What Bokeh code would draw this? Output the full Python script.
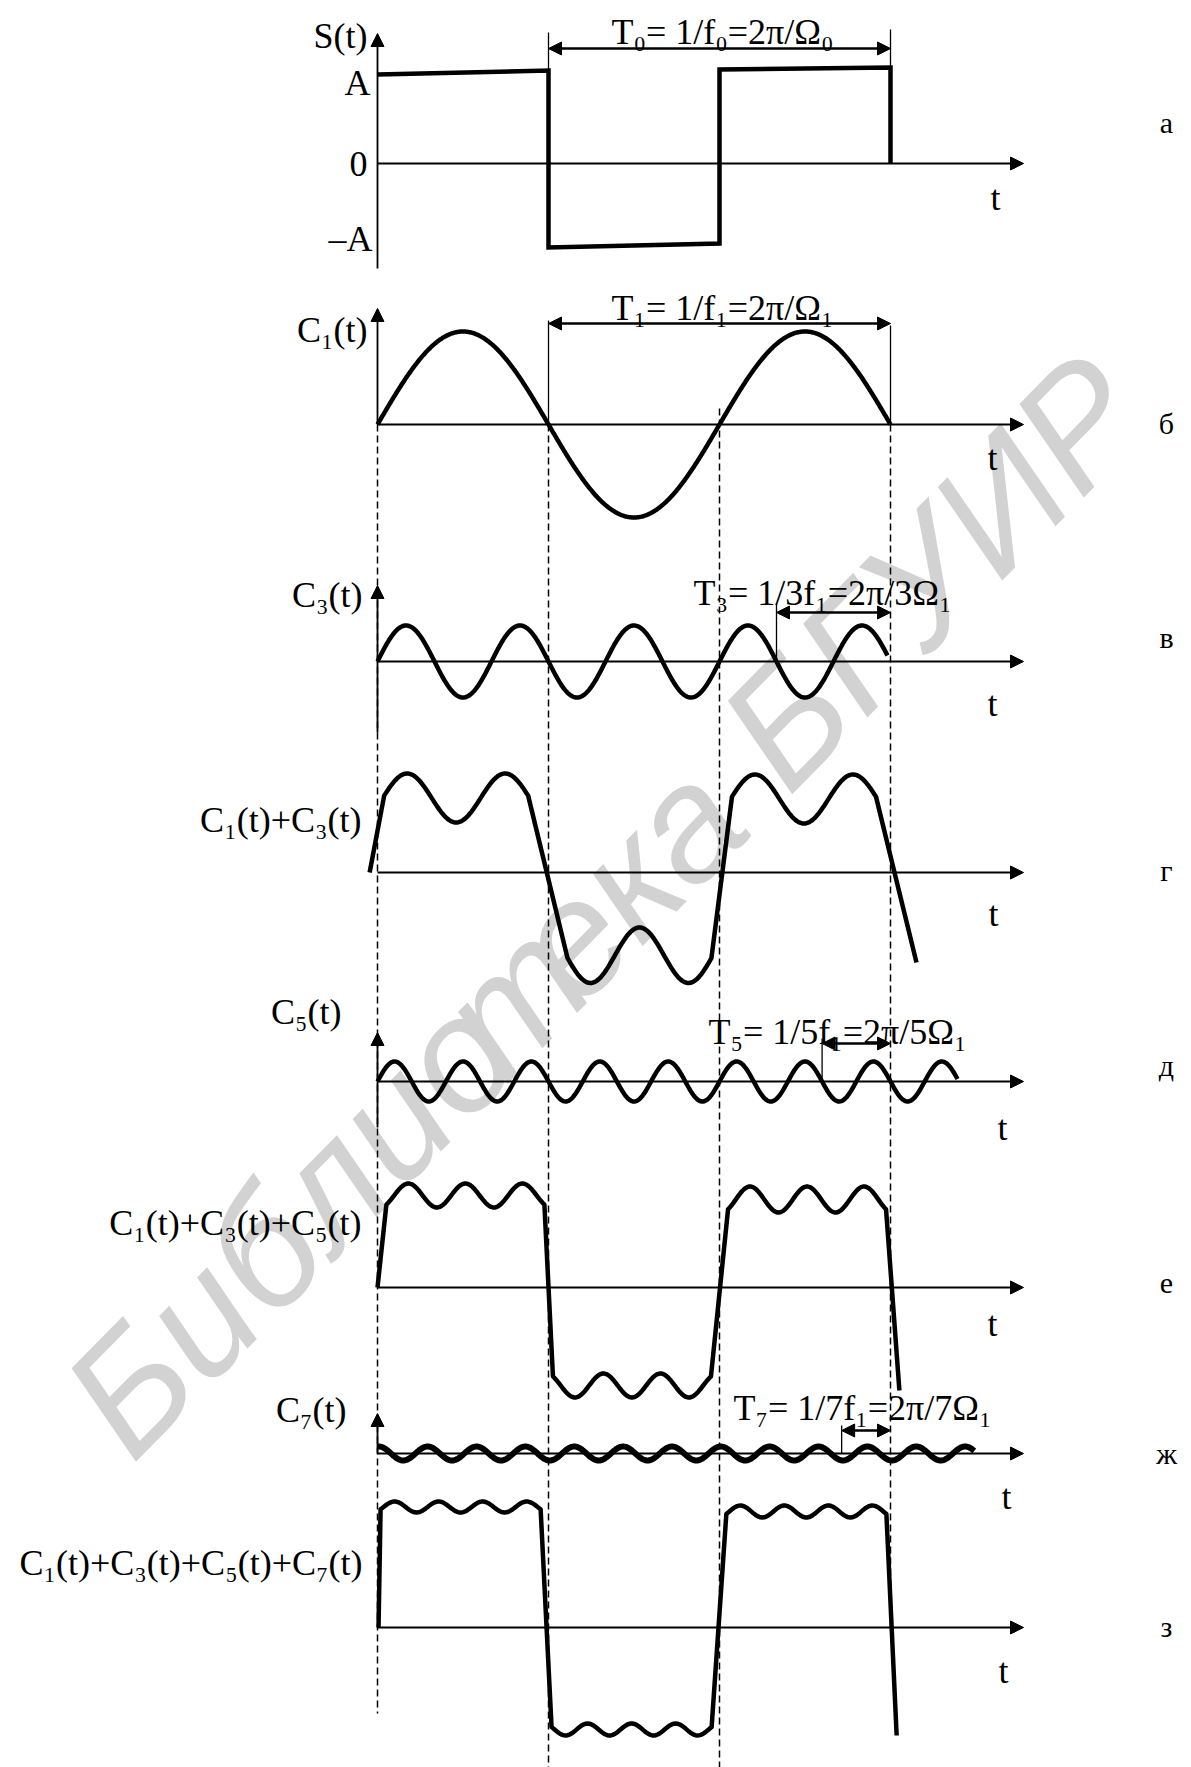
import numpy as np
from bokeh.plotting import figure
from bokeh.models import Range1d, Arrow, NormalHead, ColumnDataSource
from bokeh.core.properties import value
from bokeh.embed import file_html
from bokeh.resources import INLINE

# ---------------- data (time in periods T of the fundamental, heights in px above zero line) -------------
# a) square wave S(t)
sq_t = [0.0, 0.5, 0.5, 1.0, 1.0, 1.5, 1.5]
sq_v = [89, 93, -84, -80, 94, 96, 0]

# single harmonics C1, C3, C5, C7
harm_order = [1, 3, 5, 7]
harm_amp = [93, 36, 20, 7]
harm_phase = [0.0, 0.0, 0.0, 1.4]
harm_t_end = [1.5, 1.491, 1.696, 1.745]

# partial sums: C1+C3, C1+C3+C5, C1+C3+C5+C7
comp_start = [(-0.023, 0), (0.0, 0), (0.003, 0)]
comp_end = [(1.576, -90), (1.526, -103), (1.518, -108)]
comp_centers = [[0.230, 0.766, 1.247], [0.257, 0.744, 1.256], [0.243, 0.743, 1.254]]
comp_levels = [[74.5, -82.75, 73.5], [92, -98, 88], [120.5, -102, 116]]
comp_ripple = [[24.5, 27.75, 24.5], [12, 12, 13], [5.5, 6, 6]]
comp_halfwidth = [0.2105, 0.231, 0.234]
comp_ripple_period = [0.2865, 0.1667, 0.1287]
comp_centre_is_peak = [-1, 1, -1]

# period markers
dash_t = [0.0, 0.5, 1.0, 1.5]
period_marks = [0.5, 1.5 - 1 / 3, 1.5 - 1 / 5, 1.5 - 1 / 7]

# texts
t_labels = ["T₀= 1/f₀=2π/Ω₀", "T₁= 1/f₁=2π/Ω₁", "T₃= 1/3f₁=2π/3Ω₁",
            "T₅= 1/5f₁=2π/5Ω₁", "T₇= 1/7f₁=2π/7Ω₁"]
panel_letters = ["а", "б", "в", "г", "д", "е", "ж", "з"]
y_labels = ["S(t)", "C₁(t)", "C₃(t)", "C₁(t)+C₃(t)", "C₅(t)",
            "C₁(t)+C₃(t)+C₅(t)", "C₇(t)", "C₁(t)+C₃(t)+C₅(t)+C₇(t)"]
level_labels = ["A", "0", "–A"]
watermark = "Библиотека БГУИР"
wm_em = {"Б": 0.667, "и": 0.556, "б": 0.574, "л": 0.574, "о": 0.556, "т": 0.458, "е": 0.556,
         "к": 0.448, "а": 0.556, " ": 0.278, "Г": 0.552, "У": 0.635, "И": 0.722, "Р": 0.667}

# ---------------- layout ----------------
X0, PX = 377.0, 342.0          # page x of t=0 and px per period


def tx(px):
    return (px - X0) / PX


BASE = [163, 424, 661, 872, 1081, 1287, 1453, 1627]   # zero line of each panel (page y)
W, H = 1191, 1767

p = figure(width=W, height=H, x_range=Range1d(tx(0), tx(W)), y_range=Range1d(H, 0),
           output_backend="svg", toolbar_location=None, x_axis_type=None, y_axis_type=None,
           min_border=0)
p.outline_line_color = None
p.grid.visible = False
p.background_fill_color = "white"
p.border_fill_color = "white"

SERIF = value("Liberation Serif")
FS = "36px"

# watermark, letter by letter along the diagonal (each letter centred on its own slot)
wm_fs = 162
theta = 0.794
cx, cy = 603.0, 905.0
dx, dy = np.cos(theta), -np.sin(theta)
widths = np.array([wm_em[ch] * wm_fs for ch in watermark])
total = widths.sum()
mid = np.cumsum(widths) - widths / 2 - total / 2
keep = [i for i, ch in enumerate(watermark) if ch != " "]
p.text(x=[tx(cx + mid[i] * dx) for i in keep], y=[cy + mid[i] * dy for i in keep],
       text=[watermark[i] for i in keep],
       angle=theta, text_font=value("Liberation Sans"), text_font_style="italic",
       text_font_size=f"{wm_fs}px", text_color="#d2d2d2", text_align="center", text_baseline="middle")

# dashed period lines
dash_top = [424, 424, 408, 424]
dash_bot = [1713, 1767, 1767, 1627]
p.segment(x0=dash_t, y0=dash_top, x1=dash_t, y1=dash_bot, line_color="black",
          line_width=1.5, line_dash="7 4")

# axes with arrow heads
ax_src = ColumnDataSource(dict(
    x0=[0.0] * 8 + [0.0] * 5,
    y0=BASE + [268, 424, 732, 1127, 1453],
    x1=[tx(1023)] * 8 + [0.0] * 5,
    y1=BASE + [33, 308, 585, 1032, 1413],
))
p.add_layout(Arrow(source=ax_src, x_start="x0", y_start="y0", x_end="x1", y_end="y1",
                   line_width=1.8, line_color="black",
                   end=NormalHead(size=13, fill_color="black", line_color="black")))

# period tick lines
p.segment(x0=[0.5, 1.5, 0.5, 1.5] + period_marks[1:],
          y0=[32, 29, 320, 325, 603, 1038, 1425],
          x1=[0.5, 1.5, 0.5, 1.5] + period_marks[1:],
          y1=[70, 67, 424, 424, 661, 1081, 1453],
          line_color="black", line_width=1.3)

# double arrows for periods
pa_src = ColumnDataSource(dict(x0=[0.5, 0.5] + period_marks[1:], x1=[1.5] * 5,
                               y=[48, 323, 612, 1043, 1430]))
p.add_layout(Arrow(source=pa_src, x_start="x0", y_start="y", x_end="x1", y_end="y",
                   line_width=2.5, line_color="black",
                   start=NormalHead(size=13, fill_color="black", line_color="black"),
                   end=NormalHead(size=13, fill_color="black", line_color="black")))

# a) square wave
p.line(sq_t, [BASE[0] - v for v in sq_v], line_color="black", line_width=4.5, line_join="miter")

# harmonics
harm_base = [BASE[1], BASE[2], BASE[4], BASE[6]]
harm_lw = [4.5, 4.5, 4.5, 6]
for n, a, ph, te, b, lw in zip(harm_order, harm_amp, harm_phase, harm_t_end, harm_base, harm_lw):
    t = np.linspace(0, te, 600)
    v = a * np.sin(2 * np.pi * n * t + ph)
    p.line(t, b - v, line_color="black", line_width=lw, line_join="round")

# partial sums
comp_base = [BASE[3], BASE[5], BASE[7]]
for k in range(3):
    ts, vs = [comp_start[k][0]], [comp_start[k][1]]
    for tc, L, r in zip(comp_centers[k], comp_levels[k], comp_ripple[k]):
        t = np.linspace(tc - comp_halfwidth[k], tc + comp_halfwidth[k], 90)
        v = L + np.sign(L) * comp_centre_is_peak[k] * r * np.cos(2 * np.pi * (t - tc) / comp_ripple_period[k])
        ts += list(t)
        vs += list(v)
    ts.append(comp_end[k][0])
    vs.append(comp_end[k][1])
    p.line(ts, [comp_base[k] - v for v in vs], line_color="black", line_width=4.5, line_join="round")

# texts: period formulas
p.text(x=[tx(722), tx(722), tx(822), tx(837), tx(862)], y=[31, 307, 592, 1031, 1407], text=t_labels,
       text_font=SERIF, text_font_size=FS, text_align="center", text_baseline="middle", text_color="black")

# y labels (right aligned near axis)
p.text(x=[tx(367), tx(367), tx(362), tx(361), tx(341), tx(361), tx(346), tx(362)],
       y=[35, 329, 594, 819, 1011, 1222, 1409, 1562], text=y_labels,
       text_font=SERIF, text_font_size=FS, text_align="right", text_baseline="middle", text_color="black")

# level labels of panel a
p.text(x=[tx(370), tx(367), tx(372)], y=[82, 163, 238], text=level_labels,
       text_font=SERIF, text_font_size=FS, text_align="right", text_baseline="middle", text_color="black")

# "t" labels
p.text(x=[tx(995), tx(992), tx(992), tx(993), tx(1002), tx(992), tx(1006), tx(1003)],
       y=[197, 457, 703, 913, 1127, 1323, 1496, 1670], text=["t"] * 8,
       text_font=SERIF, text_font_size=FS, text_align="center", text_baseline="middle", text_color="black")

# panel letters
p.text(x=[tx(1166)] * 8, y=[122, 423, 637, 870, 1065, 1282, 1453, 1626], text=panel_letters,
       text_font=SERIF, text_font_size="30px", text_align="center", text_baseline="middle", text_color="black")

open("out.html", "w").write(file_html(p, INLINE))
